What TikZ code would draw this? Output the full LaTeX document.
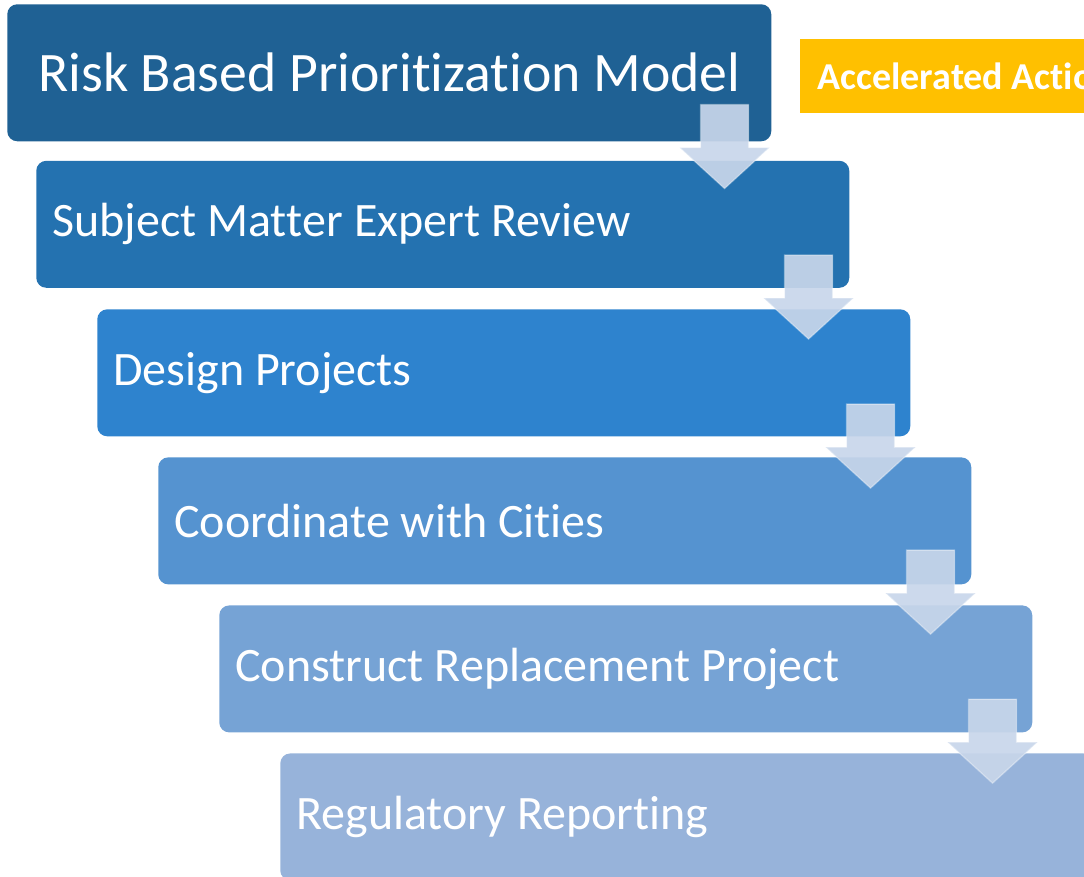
\documentclass[tikz,border=0pt]{standalone}
\usepackage{fontspec}
\setmainfont{Carlito}[Ligatures=CommonOff]
\usetikzlibrary{positioning,calc}

\definecolor{boxA}{RGB}{31,97,148}
\definecolor{boxB}{RGB}{36,114,176}
\definecolor{boxC}{RGB}{46,131,206}
\definecolor{boxD}{RGB}{85,147,208}
\definecolor{boxE}{RGB}{118,163,213}
\definecolor{boxF}{RGB}{151,179,218}
\definecolor{accel}{RGB}{255,192,0}
\definecolor{arrowblue}{RGB}{200,214,234}

% break the t-ligatures of Carlito
\newcommand{\nolig}{\kern0pt\relax}

\begin{document}
\begin{tikzpicture}[x=0.75pt, y=-0.75pt,
  stepbox/.style={rounded corners=7.5pt, text=white, anchor=north west,
    minimum width=609.75pt, minimum height=95.25pt, inner xsep=12pt,
    text width=585.75pt, align=left, font=\fontsize{36}{40}\selectfont,
    execute at begin node={\spaceskip=0pt\xspaceskip=0pt\relax}},
  blockarrow/.pic={
    \filldraw[fill=arrowblue, fill opacity=0.92, draw=white, draw opacity=0.35, line width=1pt]
      (-24,-84) -- (24,-84) -- (24,-41) -- (45,-41) -- (0,0) -- (-45,-41) -- (-24,-41) -- cycle;}]

\useasboundingbox (0,0) rectangle (1084,877);
\clip (0,0) rectangle (1084,877);

% Steps
\node (risk) [rounded corners=7.5pt, fill=boxA, text=white, anchor=north west,
  minimum width=573pt, minimum height=102.75pt,
  font=\fontsize{41.8}{46}\selectfont] at (7,4) {Risk Based Priorit\nolig izat\nolig ion Model};
\node (sme) [stepbox, fill=boxB] at ($(risk.south west)+(29,19)$) {Subject Mat\nolig ter Expert Review};
\node (design) [stepbox, fill=boxC] at ($(sme.south west)+(61,21)$) {Design Projects};
\node (coord) [stepbox, fill=boxD] at ($(design.south west)+(61,20.5)$) {Coordinate with Cit\nolig ies};
\node (construct) [stepbox, fill=boxE] at ($(coord.south west)+(61,20.5)$) {Construct Replacement Project};
\node (report) [stepbox, fill=boxF] at ($(construct.south west)+(61,20.5)$) {Regulatory Report\nolig ing};

% Side label
\node (accelerated) [fill=accel, text=white, anchor=north west, minimum height=55.5pt,
  minimum width=300pt, inner xsep=13pt, text width=274pt, align=left,
  execute at begin node={\spaceskip=0pt\xspaceskip=0pt\relax},
  font=\bfseries\fontsize{28.5}{32}\selectfont] at (800,39) {Accelerated Act\nolig ion};

% Arrows between steps
\pic at ($(risk.south east |- sme.north)+(-47,28)$) {blockarrow};
\pic at ($(sme.north east |- design.north)+(-41,30)$) {blockarrow};
\pic at ($(design.north east |- coord.north)+(-40,31)$) {blockarrow};
\pic at ($(coord.north east |- construct.north)+(-41,29)$) {blockarrow};
\pic at ($(construct.north east |- report.north)+(-40,30)$) {blockarrow};

\end{tikzpicture}
\end{document}
